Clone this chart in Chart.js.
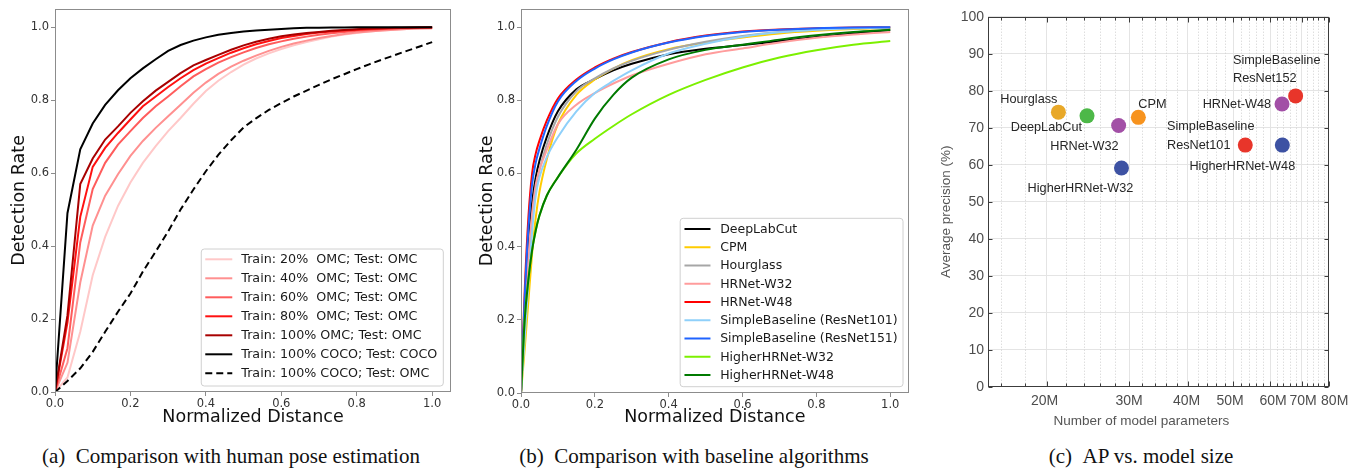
<!DOCTYPE html>
<html>
<head>
<meta charset="utf-8">
<script src="https://cdn.jsdelivr.net/npm/chart.js@4.4.1/dist/chart.umd.min.js"></script>
<style>
  html, body { margin: 0; padding: 0; background: #fff; }
  #wrap { position: relative; width: 1358px; height: 473px; overflow: hidden; background: #fff; }
  canvas { position: absolute; top: 0; }
  .cap { position: absolute; top: 444px; width: 520px; text-align: center;
         font-family: 'Liberation Serif', 'Times New Roman', serif; font-size: 21px; line-height: 24px; color: #111; white-space: pre; }
</style>
</head>
<body>
<div id="wrap">
  <canvas id="cA" width="460" height="440" style="left:0px;width:460px;height:440px"></canvas>
  <canvas id="cB" width="450" height="440" style="left:470px;width:450px;height:440px"></canvas>
  <canvas id="cC" width="438" height="440" style="left:920px;width:438px;height:440px"></canvas>
  <div class="cap" style="left:-29px">(a)&ensp;Comparison with human pose estimation</div>
  <div class="cap" style="left:434px">(b)&ensp;Comparison with baseline algorithms</div>
  <div class="cap" style="left:881px">(c)&ensp;AP vs. model size</div>
</div>
<script>
// ---------------- DATA: panel (a) ----------------
const distA = [0, 0.033, 0.067, 0.1, 0.133, 0.167, 0.2, 0.233, 0.267, 0.3, 0.333, 0.367, 0.4, 0.433, 0.467, 0.5,
               0.533, 0.567, 0.6, 0.633, 0.667, 0.7, 0.733, 0.767, 0.8, 0.833, 0.867, 0.9, 0.933, 0.967, 1.0];
const omc20  = [0, 0.04, 0.165, 0.32, 0.425, 0.51, 0.574, 0.628, 0.674, 0.715, 0.751, 0.79, 0.825, 0.853, 0.877, 0.897, 0.914, 0.928, 0.94, 0.95, 0.959, 0.967, 0.974, 0.98, 0.984, 0.988, 0.991, 0.993, 0.995, 0.996, 0.997];
const omc40  = [0, 0.08, 0.3, 0.456, 0.538, 0.597, 0.647, 0.688, 0.724, 0.756, 0.787, 0.82, 0.848, 0.872, 0.892, 0.908, 0.922, 0.935, 0.946, 0.955, 0.963, 0.97, 0.976, 0.981, 0.985, 0.988, 0.991, 0.993, 0.995, 0.996, 0.997];
const omc60  = [0, 0.12, 0.41, 0.556, 0.628, 0.678, 0.715, 0.751, 0.783, 0.81, 0.838, 0.865, 0.885, 0.903, 0.918, 0.931, 0.943, 0.953, 0.961, 0.968, 0.974, 0.979, 0.983, 0.987, 0.99, 0.992, 0.994, 0.996, 0.997, 0.998, 0.998];
const omc80  = [0, 0.19, 0.48, 0.617, 0.669, 0.71, 0.747, 0.783, 0.81, 0.836, 0.86, 0.882, 0.9, 0.915, 0.93, 0.942, 0.953, 0.962, 0.97, 0.976, 0.981, 0.985, 0.988, 0.991, 0.993, 0.995, 0.996, 0.997, 0.998, 0.999, 0.999];
const omc100 = [0, 0.21, 0.57, 0.64, 0.692, 0.728, 0.765, 0.797, 0.826, 0.85, 0.874, 0.895, 0.91, 0.924, 0.938, 0.95, 0.96, 0.968, 0.975, 0.98, 0.984, 0.987, 0.99, 0.992, 0.994, 0.996, 0.997, 0.998, 0.998, 0.999, 1.0];
const cocoCoco = [0, 0.49, 0.665, 0.736, 0.787, 0.827, 0.86, 0.887, 0.912, 0.935, 0.951, 0.963, 0.972, 0.979, 0.984, 0.988, 0.991, 0.993, 0.995, 0.997, 0.998, 0.998, 0.999, 0.999, 1, 1, 1, 1, 1, 1, 1];
const cocoOmc  = [0, 0.03, 0.065, 0.11, 0.165, 0.22, 0.27, 0.33, 0.385, 0.44, 0.5, 0.555, 0.605, 0.65, 0.69, 0.725, 0.75, 0.773, 0.792, 0.81, 0.826, 0.842, 0.857, 0.871, 0.885, 0.898, 0.911, 0.923, 0.935, 0.947, 0.959];
const labelsA = ['Train: 20%  OMC; Test: OMC', 'Train: 40%  OMC; Test: OMC', 'Train: 60%  OMC; Test: OMC',
                 'Train: 80%  OMC; Test: OMC', 'Train: 100% OMC; Test: OMC', 'Train: 100% COCO; Test: COCO',
                 'Train: 100% COCO; Test: OMC'];
const valuesA = [omc20, omc40, omc60, omc80, omc100, cocoCoco, cocoOmc];
const colorsA = ['#ffc8c8', '#ff9090', '#ff5c5c', '#ff1010', '#a80000', '#000000', '#000000'];
const dashesA = [[], [], [], [], [], [], [7, 4]];
const ticksA = [0, 0.2, 0.4, 0.6, 0.8, 1.0];

// ---------------- DATA: panel (b) ----------------
const distB = [0, 0.01, 0.02, 0.03, 0.04, 0.05, 0.07, 0.1, 0.15, 0.2, 0.25, 0.3, 0.4, 0.5, 0.6, 0.7, 0.8, 0.9, 1.0];
const deepLabCut = [0, 0.22, 0.4, 0.52, 0.59, 0.635, 0.7, 0.77, 0.83, 0.858, 0.882, 0.9, 0.926, 0.941, 0.951, 0.962, 0.973, 0.983, 0.992];
const cpm        = [0, 0.12, 0.25, 0.38, 0.48, 0.55, 0.64, 0.735, 0.815, 0.857, 0.887, 0.91, 0.94, 0.958, 0.972, 0.983, 0.99, 0.995, 0.998];
const hourglass  = [0, 0.2, 0.36, 0.48, 0.56, 0.61, 0.68, 0.755, 0.825, 0.86, 0.887, 0.908, 0.938, 0.96, 0.976, 0.987, 0.993, 0.997, 0.999];
const hrnetW32   = [0, 0.2, 0.37, 0.49, 0.57, 0.61, 0.665, 0.735, 0.788, 0.82, 0.846, 0.868, 0.9, 0.926, 0.942, 0.958, 0.971, 0.98, 0.987];
const hrnetW48   = [0, 0.28, 0.48, 0.6, 0.655, 0.69, 0.745, 0.805, 0.857, 0.89, 0.914, 0.932, 0.959, 0.977, 0.988, 0.994, 0.997, 0.999, 1.0];
const sbRes101   = [0, 0.15, 0.3, 0.44, 0.54, 0.59, 0.645, 0.7, 0.77, 0.82, 0.853, 0.882, 0.928, 0.955, 0.974, 0.986, 0.993, 0.997, 0.999];
const sbRes151   = [0, 0.26, 0.45, 0.57, 0.63, 0.668, 0.73, 0.797, 0.853, 0.887, 0.912, 0.931, 0.958, 0.976, 0.987, 0.993, 0.997, 0.999, 1.0];
const higherW32  = [0, 0.2, 0.31, 0.39, 0.445, 0.485, 0.54, 0.59, 0.655, 0.695, 0.73, 0.762, 0.815, 0.856, 0.89, 0.917, 0.937, 0.952, 0.962];
const higherW48  = [0, 0.2, 0.31, 0.39, 0.445, 0.485, 0.54, 0.59, 0.665, 0.75, 0.815, 0.862, 0.912, 0.938, 0.952, 0.966, 0.978, 0.987, 0.993];
const labelsB = ['DeepLabCut', 'CPM', 'Hourglass', 'HRNet-W32', 'HRNet-W48', 'SimpleBaseline (ResNet101)',
                 'SimpleBaseline (ResNet151)', 'HigherHRNet-W32', 'HigherHRNet-W48'];
const valuesB = [deepLabCut, cpm, hourglass, hrnetW32, hrnetW48, sbRes101, sbRes151, higherW32, higherW48];
const colorsB = ['#000000', '#ffcc00', '#a6a6a6', '#ff9c9c', '#ff0000', '#8fd0fa', '#1f63ff', '#7cf000', '#007a00'];

// ---------------- DATA: panel (c) ----------------
const modelNames = ['Hourglass', 'DeepLabCut', 'HRNet-W32', 'CPM', 'HigherHRNet-W32',
                    'SimpleBaseline ResNet101', 'HigherHRNet-W48', 'HRNet-W48', 'SimpleBaseline ResNet152'];
const modelLabelLines = [['Hourglass'], ['DeepLabCut'], ['HRNet-W32'], ['CPM'], ['HigherHRNet-W32'],
                         ['SimpleBaseline', 'ResNet101'], ['HigherHRNet-W48'], ['HRNet-W48'], ['SimpleBaseline', 'ResNet152']];
const paramsM = [21.2, 24.4, 28.5, 31.4, 28.9, 53.1, 63.7, 63.6, 68.0];
const apValues = [74.2, 73.2, 70.6, 72.8, 59.1, 65.3, 65.3, 76.4, 78.6];
const colorsC = ['#e8a828', '#4db848', '#a24fa6', '#f7931e', '#3d52a3', '#e8352a', '#3d52a3', '#a24fa6', '#e8352a'];
const xMajorC = [20, 30, 40, 50, 60, 70, 80];
const xMajorLabelsC = ['20M', '30M', '40M', '50M', '60M', '70M', '80M'];
const xMinorC = [16, 18, 22, 24, 26, 28, 32, 34, 36, 38, 42, 44, 46, 48, 52, 54, 56, 58, 62, 64, 66, 68, 72, 74, 76, 78];
const yTicksC = [0, 10, 20, 30, 40, 50, 60, 70, 80, 90, 100];
// style only: small horizontal nudges of the x tick labels (px), as laid out in the original
const xLabelNudgeC = [-2, 0, -1, -3, 3, 1.5, 6];
// label placement (style only): alignment and offsets from the marker, in px
const labelPlaceC = [
  {align: 'right', dx: -1, dy: -13, lh: 0},
  {align: 'right', dx: -5, dy: 11.7, lh: 0},
  {align: 'right', dx: 0, dy: 20.7, lh: 0},
  {align: 'left', dx: 0, dy: -13.3, lh: 0},
  {align: 'center', dx: -41, dy: 20, lh: 0},
  {align: 'left', dx: -78.3, dy: -18.5, lh: 18.5},
  {align: 'center', dx: -40, dy: 21.7, lh: 0},
  {align: 'right', dx: -11, dy: 0, lh: 0},
  {align: 'left', dx: -62.6, dy: -35.3, lh: 17.5}
];

// ---------------- plugins ----------------
const frameBox = {
  id: 'frameBox',
  afterDraw(chart, args, o) {
    if (!o || !o.color) return;
    const {ctx, chartArea: a} = chart;
    ctx.save();
    ctx.strokeStyle = o.color;
    ctx.lineWidth = 1;
    ctx.strokeRect(Math.round(a.left) + 0.5, Math.round(a.top) + 0.5,
                   Math.round(a.right - a.left) - 1, Math.round(a.bottom - a.top) - 1);
    ctx.restore();
  }
};

const insetLegend = {
  id: 'insetLegend',
  afterDatasetsDraw(chart, args, o) {
    if (!o || !o.display) return;
    const {ctx, chartArea: a} = chart;
    const sets = chart.data.datasets;
    ctx.save();
    ctx.font = o.font;
    const tw = Math.max(...sets.map(d => ctx.measureText(d.label).width));
    const w = o.textLeft + tw + o.padRight;
    const h = o.firstRow + (sets.length - 1) * o.rowH + o.lastPad;
    const x = a.right - o.marginRight - w;
    const y = a.bottom - o.marginBottom - h;
    const r = 3;
    ctx.beginPath();
    ctx.moveTo(x + r, y);
    ctx.arcTo(x + w, y, x + w, y + h, r);
    ctx.arcTo(x + w, y + h, x, y + h, r);
    ctx.arcTo(x, y + h, x, y, r);
    ctx.arcTo(x, y, x + w, y, r);
    ctx.closePath();
    ctx.fillStyle = 'rgba(255,255,255,0.85)';
    ctx.fill();
    ctx.strokeStyle = '#d0d0d0';
    ctx.lineWidth = 1;
    ctx.stroke();
    sets.forEach((d, i) => {
      const cy = y + o.firstRow + i * o.rowH;
      ctx.beginPath();
      ctx.setLineDash(d.borderDash || []);
      ctx.strokeStyle = d.borderColor;
      ctx.lineWidth = d.borderWidth;
      ctx.moveTo(x + o.swatchLeft, cy);
      ctx.lineTo(x + o.swatchLeft + o.swatchLen, cy);
      ctx.stroke();
      ctx.setLineDash([]);
      ctx.fillStyle = '#1a1a1a';
      ctx.textBaseline = 'middle';
      ctx.textAlign = 'left';
      ctx.fillText(d.label, x + o.textLeft, cy + 0.5);
    });
    ctx.restore();
  }
};

const matlabAxes = {
  id: 'matlabAxes',
  beforeDatasetsDraw(chart, args, o) {
    const {ctx, chartArea: a, scales: {x}} = chart;
    ctx.save();
    ctx.strokeStyle = '#cfcfcf';
    ctx.lineWidth = 1;
    ctx.setLineDash([1, 2]);
    xMinorC.forEach(v => {
      const px = Math.round(x.getPixelForValue(v)) + 0.5;
      ctx.beginPath(); ctx.moveTo(px, a.top); ctx.lineTo(px, a.bottom); ctx.stroke();
    });
    ctx.restore();
  },
  afterDraw(chart, args, o) {
    const {ctx, chartArea: a, scales: {x, y}} = chart;
    ctx.save();
    const L = Math.round(a.left) + 0.5, R = Math.round(a.right) - 0.5;
    const T = Math.round(a.top) + 0.5, B = Math.round(a.bottom) - 0.5;
    ctx.strokeStyle = '#3c3c3c';
    ctx.lineWidth = 1;
    ctx.strokeRect(L, T, R - L, B - T);
    ctx.beginPath();
    yTicksC.forEach(v => {
      const py = Math.round(y.getPixelForValue(v)) + 0.5;
      ctx.moveTo(L, py); ctx.lineTo(L + 4, py);
      ctx.moveTo(R, py); ctx.lineTo(R - 4, py);
    });
    xMajorC.forEach(v => {
      const px = Math.round(x.getPixelForValue(v)) + 0.5;
      ctx.moveTo(px, B); ctx.lineTo(px, B - 5);
      ctx.moveTo(px, T); ctx.lineTo(px, T + 5);
    });
    xMinorC.forEach(v => {
      const px = Math.round(x.getPixelForValue(v)) + 0.5;
      ctx.moveTo(px, B); ctx.lineTo(px, B - 3);
      ctx.moveTo(px, T); ctx.lineTo(px, T + 3);
    });
    ctx.stroke();
    // x tick labels
    ctx.fillStyle = '#4d4d4d';
    ctx.font = '14px "Liberation Sans", Arial, sans-serif';
    ctx.textAlign = 'center';
    ctx.textBaseline = 'middle';
    xMajorC.forEach((v, i) => {
      ctx.fillText(xMajorLabelsC[i], x.getPixelForValue(v) + xLabelNudgeC[i], a.bottom + 14.5);
    });
    // axis titles
    ctx.fillStyle = '#555555';
    ctx.font = '13.5px "Liberation Sans", Arial, sans-serif';
    ctx.fillText('Number of model parameters', (a.left + a.right) / 2 - 17, a.bottom + 35);
    ctx.save();
    ctx.translate(a.left - 42, (a.top + a.bottom) / 2 + 10);
    ctx.rotate(-Math.PI / 2);
    ctx.fillText('Average precision (%)', 0, 0);
    ctx.restore();
    ctx.restore();
  },
  afterDatasetsDraw(chart) {
    const {ctx} = chart;
    const meta = chart.getDatasetMeta(0);
    ctx.save();
    ctx.font = '12.7px "Liberation Sans", Arial, sans-serif';
    ctx.fillStyle = '#262626';
    ctx.textBaseline = 'middle';
    meta.data.forEach((pt, i) => {
      const p = labelPlaceC[i];
      ctx.textAlign = p.align;
      modelLabelLines[i].forEach((line, j) => {
        ctx.fillText(line, pt.x + p.dx, pt.y + p.dy + j * p.lh);
      });
    });
    ctx.restore();
  }
};

// ---------------- chart builders ----------------
Chart.defaults.font.family = "'DejaVu Sans', sans-serif";

function curveScales(yWidth, xHeight, yTitlePad) {
  const common = {
    type: 'linear', min: 0, max: 1.05, bounds: 'data',
    grid: {drawOnChartArea: false, drawTicks: true, tickLength: 4, color: '#8c8c8c', tickWidth: 1},
    border: {display: false}
  };
  return {
    x: Object.assign({}, common, {
      afterBuildTicks: s => { s.ticks = ticksA.map(v => ({value: v})); },
      ticks: {callback: v => Number(v).toFixed(1), font: {size: 11.5}, color: '#333', padding: 1, maxRotation: 0, autoSkip: false},
      title: {display: true, text: 'Normalized Distance', font: {size: 17.5}, color: '#111', padding: {top: 0, bottom: 12}},
      afterFit: s => { s.height = xHeight; }
    }),
    y: Object.assign({}, common, {
      afterBuildTicks: s => { s.ticks = ticksA.map(v => ({value: v})); },
      ticks: {callback: v => Number(v).toFixed(1), font: {size: 11.5}, color: '#333', padding: 2, autoSkip: false},
      title: {display: true, text: 'Detection Rate', font: {size: 17.5}, color: '#111', padding: {top: yTitlePad, bottom: 0}},
      afterFit: s => { s.width = yWidth; }
    })
  };
}

// Panel (a)
new Chart(document.getElementById('cA'), {
  type: 'line',
  data: {
    datasets: labelsA.map((lab, i) => ({
      label: lab,
      data: distA.map((d, j) => ({x: d, y: valuesA[i][j]})),
      borderColor: colorsA[i], borderWidth: 2, borderDash: dashesA[i],
      pointRadius: 0, tension: 0, fill: false, order: labelsA.length - i
    }))
  },
  options: {
    responsive: false, animation: false, devicePixelRatio: 1,
    layout: {padding: {left: 0, right: 9, top: 7, bottom: 0}},
    plugins: {
      legend: {display: false}, tooltip: {enabled: false},
      frameBox: {color: '#8c8c8c'},
      insetLegend: {display: true, font: "12.7px 'DejaVu Sans'", rowH: 19, firstRow: 10.3, lastPad: 12.7,
                    marginRight: 7.7, marginBottom: 6, swatchLeft: 4, swatchLen: 27, textLeft: 40, padRight: 6}
    },
    scales: curveScales(55, 48, 9)
  },
  plugins: [insetLegend, frameBox]
});

// Panel (b)
new Chart(document.getElementById('cB'), {
  type: 'line',
  data: {
    datasets: labelsB.map((lab, i) => ({
      label: lab,
      data: distB.map((d, j) => ({x: d, y: valuesB[i][j]})),
      borderColor: colorsB[i], borderWidth: 2, borderDash: [],
      pointRadius: 0, cubicInterpolationMode: 'monotone', fill: false, order: labelsB.length - i
    }))
  },
  options: {
    responsive: false, animation: false, devicePixelRatio: 1,
    layout: {padding: {left: 0, right: 11.3, top: 7, bottom: 0}},
    plugins: {
      legend: {display: false}, tooltip: {enabled: false},
      frameBox: {color: '#8c8c8c'},
      insetLegend: {display: true, font: "12.5px 'DejaVu Sans'", rowH: 18.25, firstRow: 10.7, lastPad: 11.7,
                    marginRight: 5.7, marginBottom: 6.3, swatchLeft: 4.3, swatchLen: 26, textLeft: 40, padRight: 5.3}
    },
    scales: curveScales(51, 47, 6.5)
  },
  plugins: [insetLegend, frameBox]
});

// Panel (c)
new Chart(document.getElementById('cC'), {
  type: 'scatter',
  data: {
    datasets: [{
      label: 'AP',
      data: paramsM.map((p, i) => ({x: p, y: apValues[i]})),
      pointRadius: 7.5, pointHoverRadius: 7.5, pointBorderWidth: 0,
      pointBackgroundColor: colorsC, backgroundColor: colorsC
    }]
  },
  options: {
    responsive: false, animation: false, devicePixelRatio: 1,
    layout: {padding: {left: 0, right: 29.3, top: 16.7, bottom: 0}},
    plugins: {legend: {display: false}, tooltip: {enabled: false}},
    scales: {
      x: {
        type: 'logarithmic', min: 15, max: 80,
        afterBuildTicks: s => { s.ticks = xMajorC.map(v => ({value: v})); },
        ticks: {display: false},
        grid: {color: '#e4e4e4', drawTicks: false, lineWidth: 1},
        border: {display: false},
        afterFit: s => { s.height = 53.3; }
      },
      y: {
        type: 'linear', min: 0, max: 100, bounds: 'data',
        afterBuildTicks: s => { s.ticks = yTicksC.map(v => ({value: v})); },
        ticks: {font: {family: "'Liberation Sans', Arial, sans-serif", size: 14}, color: '#4d4d4d', padding: 4, autoSkip: false},
        grid: {color: '#e4e4e4', drawTicks: false, lineWidth: 1},
        border: {display: false},
        afterFit: s => { s.width = 68; }
      }
    }
  },
  plugins: [matlabAxes]
});
</script>
</body>
</html>
